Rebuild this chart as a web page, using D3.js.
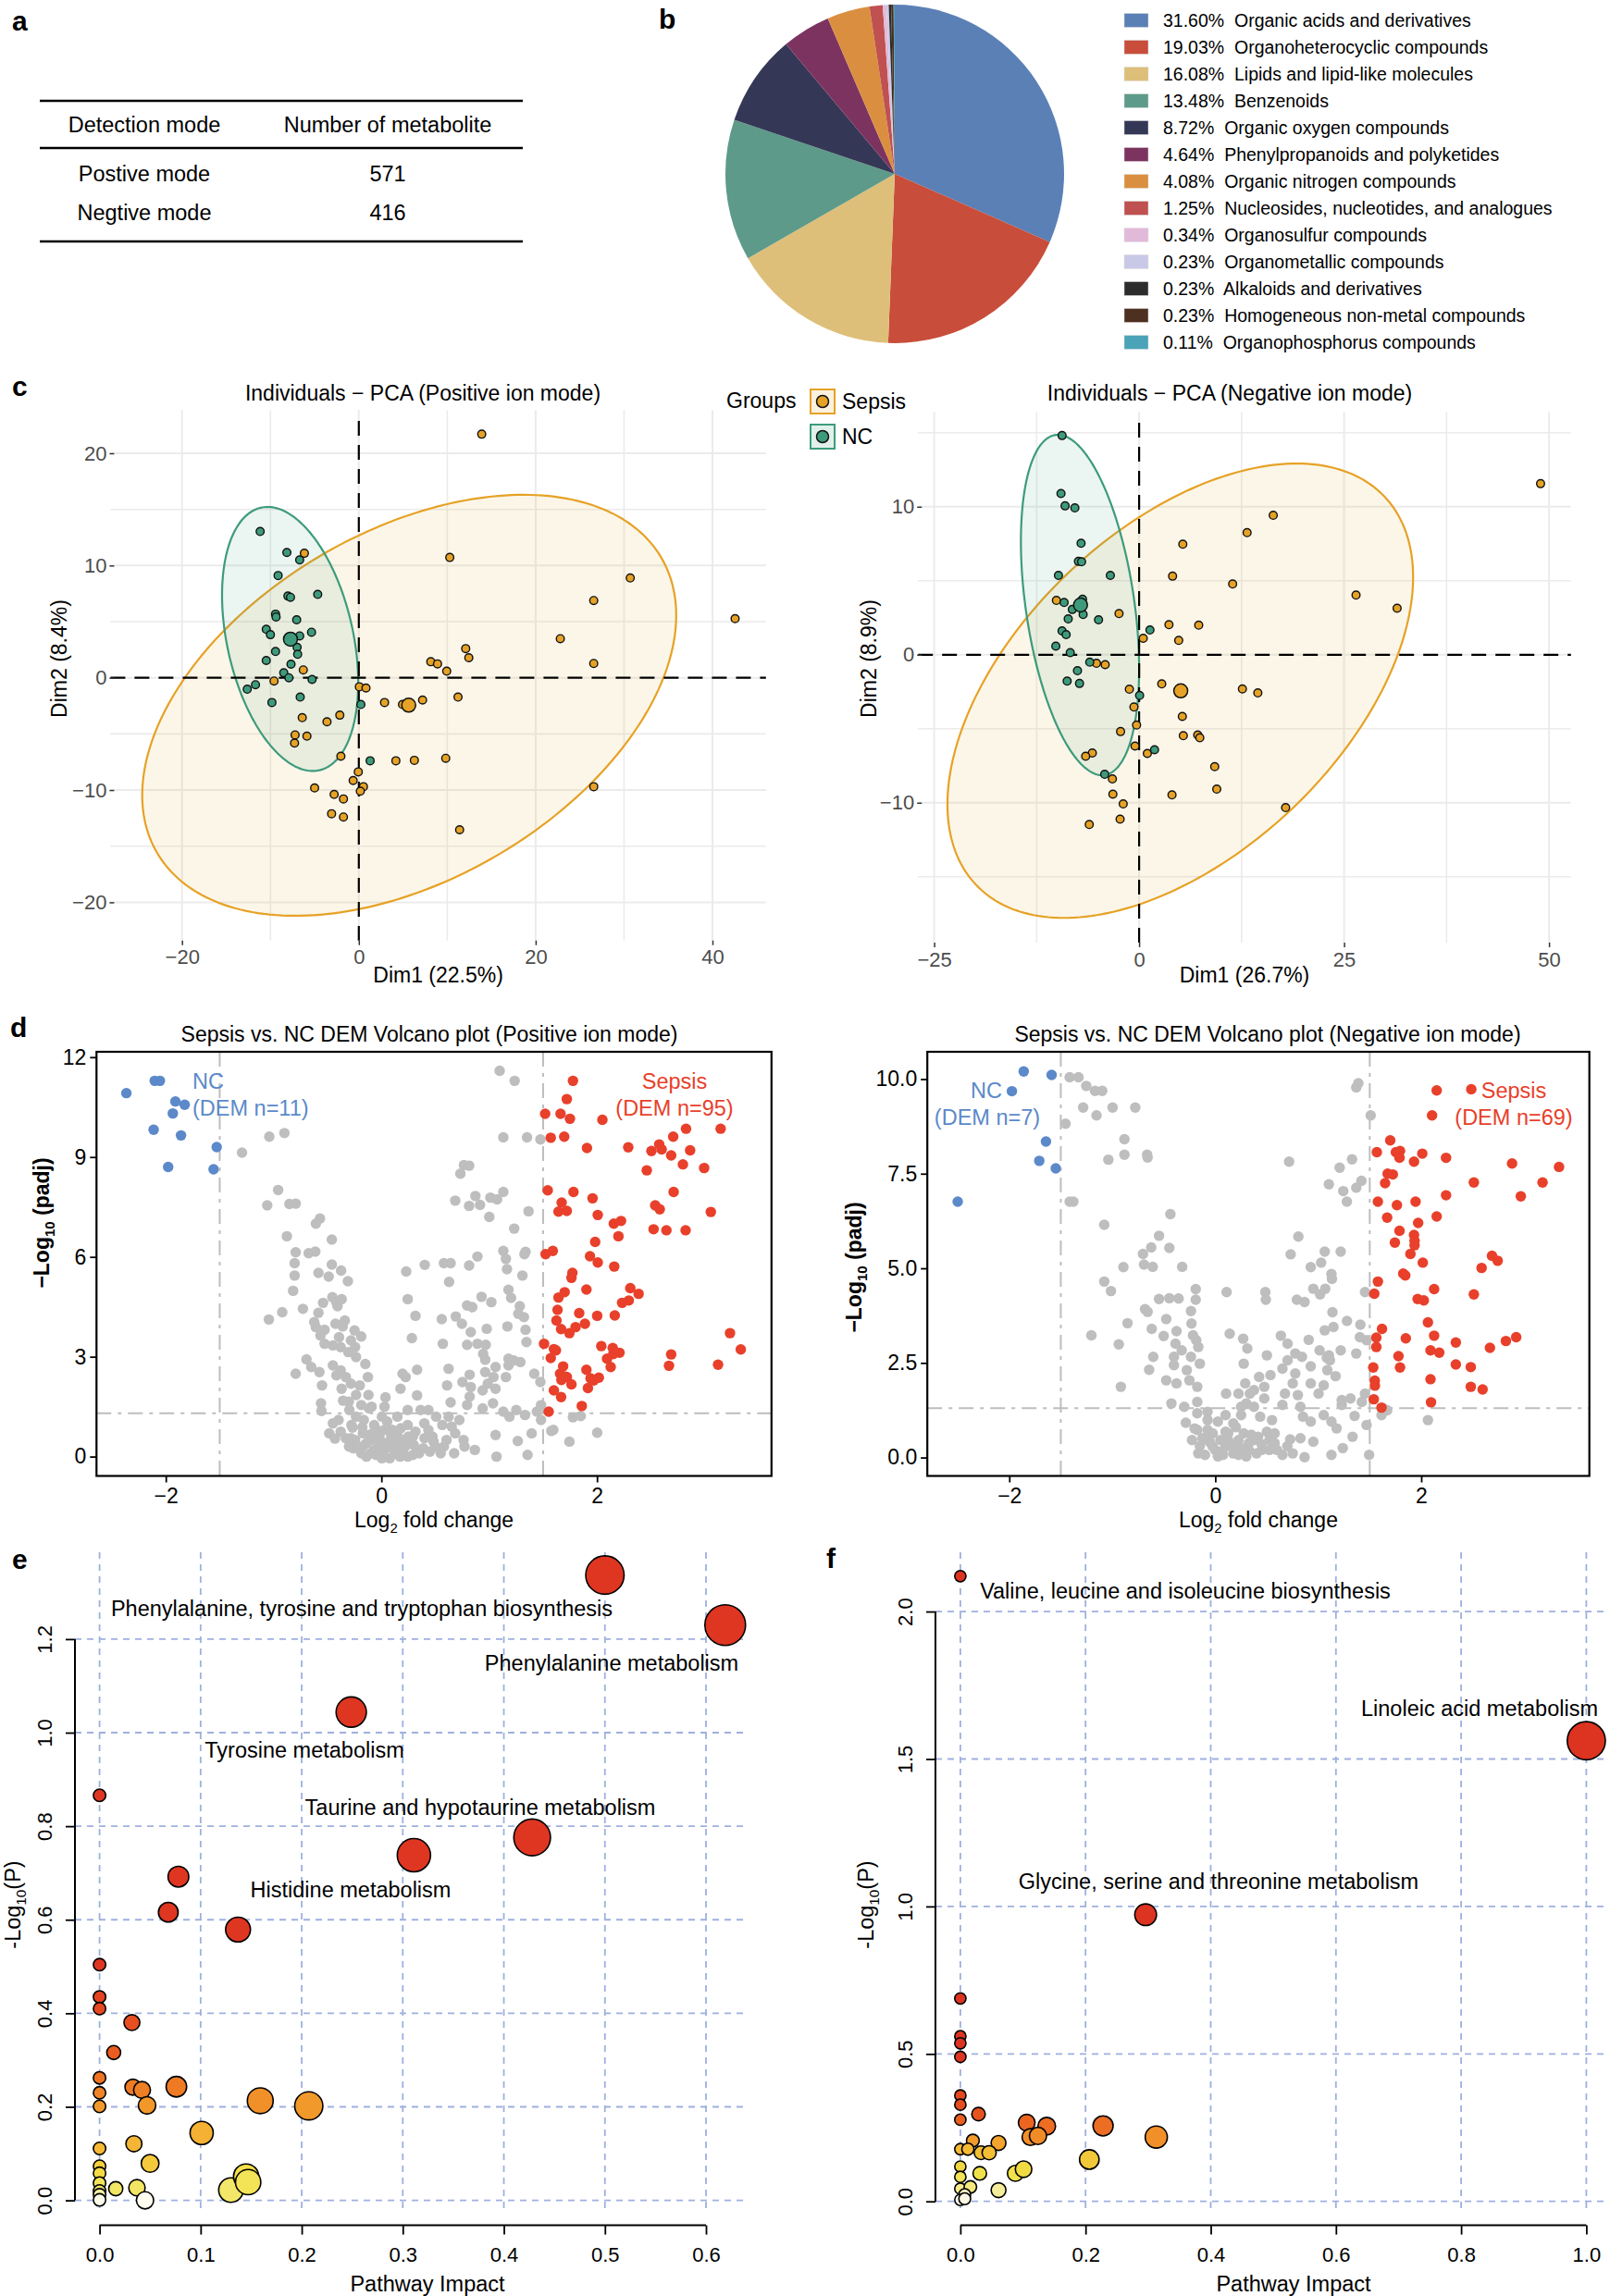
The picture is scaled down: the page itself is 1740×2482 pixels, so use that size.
<!DOCTYPE html>
<html><head><meta charset="utf-8">
<script src="https://cdn.jsdelivr.net/npm/d3@7"></script>
<style>
body{margin:0;background:#fff}
svg{font-family:"Liberation Sans",Arial,Helvetica,sans-serif}
</style></head>
<body><svg id="c" width="1740" height="2482"></svg>
<script>
// ---------------- DATA ----------------
const tableHeaders = ["Detection mode", "Number of metabolite"];
const tableModes = ["Postive mode", "Negtive mode"];
const tableCounts = [571, 416];

const pieCategories = ["Organic acids and derivatives","Organoheterocyclic compounds","Lipids and lipid-like molecules","Benzenoids","Organic oxygen compounds","Phenylpropanoids and polyketides","Organic nitrogen compounds","Nucleosides, nucleotides, and analogues","Organosulfur compounds","Organometallic compounds","Alkaloids and derivatives","Homogeneous non-metal compounds","Organophosphorus compounds"];
const piePercents = [31.60,19.03,16.08,13.48,8.72,4.64,4.08,1.25,0.34,0.23,0.23,0.23,0.11];

const groups = ["Sepsis","NC"];
const pcaPosSepsis = [[13.9,21.7],[-6.16,11.09],[10.29,10.72],[30.7,8.89],[26.57,6.88],[42.56,5.27],[22.79,3.48],[12.09,2.60],[12.44,1.79],[26.57,1.28],[8.14,1.43],[8.9,1.24],[9.94,0.59],[-6.28,0.70],[-9.59,-0.29],[0.06,-0.80],[0.81,-0.91],[2.91,-2.20],[4.94,-2.38],[7.21,-1.98],[11.22,-1.72],[-6.4,-3.55],[-2.15,-3.33],[-3.6,-3.92],[-7.21,-5.09],[-5.87,-5.20],[-7.27,-5.82],[-2.03,-6.99],[4.19,-7.39],[6.28,-7.35],[9.83,-7.17],[-0.06,-8.38],[-0.64,-9.15],[0.52,-9.70],[0.17,-10.10],[-5.0,-9.81],[-2.79,-10.39],[-1.74,-10.79],[-3.08,-12.11],[-1.74,-12.40],[26.57,-9.70],[11.40,-13.54]];
const pcaPosNC = [[-11.16,13.03],[-8.14,11.16],[-6.69,10.50],[-9.13,9.11],[-8.02,7.28],[-7.73,7.17],[-4.65,7.43],[-9.42,5.67],[-9.36,5.42],[-7.03,5.16],[-10.47,4.32],[-10.0,3.84],[-6.69,3.73],[-5.35,4.06],[-6.98,2.71],[-6.92,2.09],[-9.42,2.34],[-10.47,1.54],[-7.67,1.21],[-8.49,0.44],[-7.91,0.0],[-5.29,-0.15],[-11.69,-0.62],[-12.62,-1.02],[-9.83,-2.20],[-6.63,-1.72],[0.23,-2.38],[1.28,-7.39]];
const pcaPosCentroids = [[5.64,-2.44],[-7.73,3.44]];
const pcaPosEllipses = [{cx:5.7,cy:-2.45,sxx:912,sxy:242,syy:351.6},{cx:-7.77,cy:3.46,sxx:59.3,sxy:-30,syy:138.3}];

const pcaNegSepsis = [[48.97,11.56],[16.36,9.42],[13.17,8.25],[5.33,7.47],[4.08,5.31],[11.41,4.78],[26.46,4.03],[31.47,3.14],[-10.09,3.67],[-2.45,2.78],[3.64,2.03],[7.27,2.0],[0.50,1.11],[4.83,0.97],[-5.20,-0.58],[-4.14,-0.67],[2.76,-1.97],[-1.19,-2.33],[12.60,-2.31],[14.48,-2.58],[-0.63,-3.53],[5.27,-4.17],[-0.31,-4.75],[-2.26,-5.19],[5.39,-5.47],[7.15,-5.42],[7.40,-5.61],[-0.50,-6.17],[1.0,-6.67],[-5.71,-6.64],[-6.52,-6.86],[-3.26,-8.39],[9.22,-7.56],[-3.20,-9.42],[4.01,-9.47],[9.47,-9.08],[-1.94,-10.08],[17.87,-10.33],[-2.32,-11.11],[-6.08,-11.47]];
const pcaNegNC = [[-9.40,14.81],[-9.53,10.89],[-9.03,10.06],[-7.84,9.92],[-7.08,7.53],[-7.40,6.31],[-7.02,6.28],[-9.84,5.36],[-3.51,5.36],[-9.15,3.53],[-8.15,3.06],[-6.90,3.75],[-6.83,2.72],[-8.65,2.42],[-4.95,2.36],[-9.40,1.61],[-8.90,1.36],[-10.16,0.58],[-8.40,0.14],[-6.02,-0.50],[-7.52,-1.08],[-8.78,-1.78],[-7.27,-1.94],[0.06,-2.75],[1.32,1.67],[1.88,-6.42],[-4.20,-8.08]];
const pcaNegCentroids = [[5.08,-2.44],[-7.15,3.36]];
const pcaNegEllipses = [{cx:5.02,cy:-2.43,sxx:806.6,sxy:218,syy:235.6},{cx:-7.21,cy:3.36,sxx:52,sxy:-31,syy:132.25}];

const volcPosUp = [[1.777,11.29],[1.72,10.74],[1.519,10.30],[1.662,10.30],[1.749,10.15],[2.05,10.12],[1.571,9.58],[1.696,9.61],[1.907,9.27],[2.29,9.29],[2.505,9.18],[2.577,9.38],[2.60,9.23],[2.707,9.61],[2.826,9.85],[3.147,9.85],[2.864,9.20],[2.688,9.05],[2.462,8.60],[2.797,8.78],[2.994,8.67],[1.543,8.0],[1.782,7.95],[1.959,7.76],[1.672,7.63],[1.643,7.36],[1.72,7.38],[2.007,7.26],[2.156,7.0],[2.223,7.08],[2.199,6.62],[1.983,6.45],[2.54,7.55],[2.582,7.43],[2.711,7.95],[3.056,7.35],[2.525,6.83],[2.644,6.80],[2.822,6.80],[1.523,6.08],[1.59,6.18],[1.935,6.02],[2.007,5.83],[2.16,5.71],[1.772,5.52],[1.763,5.37],[1.902,5.02],[1.70,4.94],[1.643,4.78],[2.309,5.06],[2.386,4.89],[2.295,4.69],[2.233,4.62],[1.634,4.41],[1.835,4.31],[2.002,4.23],[2.165,4.24],[1.624,4.09],[1.667,3.83],[1.744,3.71],[1.801,3.89],[1.888,3.99],[1.509,3.39],[1.619,3.19],[2.093,2.94],[2.146,3.26],[2.209,3.12],[2.151,3.08],[1.571,2.96],[1.686,2.71],[1.657,2.49],[1.72,2.39],[1.763,2.17],[1.902,2.61],[2.017,2.37],[1.97,2.29],[2.127,2.69],[1.916,2.06],[1.60,1.99],[1.667,1.79],[1.859,1.52],[1.552,1.35],[3.234,3.71],[3.334,3.22],[3.123,2.76],[2.688,3.07],[2.668,2.73],[1.67,2.30],[1.94,2.35],[2.04,3.32],[1.60,3.23],[1.71,2.40]];
const volcPosDown = [[-2.366,10.92],[-2.103,11.29],[-2.055,11.29],[-1.911,10.67],[-1.825,10.57],[-1.935,10.31],[-2.113,9.82],[-1.859,9.65],[-1.528,9.30],[-1.978,8.70],[-1.557,8.63]];
const volcPosNS = [[1.097,11.59],[1.236,11.29],[-1.04,9.61],[-0.9,9.72],[-1.293,9.13],[1.131,9.59],[1.351,9.59],[1.475,9.53],[0.733,8.50],[0.766,8.76],[0.814,8.74],[-0.958,8.01],[-1.059,7.55],[-0.853,7.59],[-0.795,7.60],[-0.608,7.0],[-0.57,7.15],[-0.877,6.62],[-0.46,6.52],[-0.795,6.14],[-0.675,6.11],[-0.613,6.16],[-0.805,5.81],[-0.46,5.77],[-0.374,5.59],[-0.805,5.44],[-0.584,5.52],[-0.489,5.41],[-0.311,5.27],[-0.819,4.98],[-0.728,4.44],[-0.92,4.34],[-1.044,4.12],[-0.541,4.62],[-0.455,4.79],[-0.417,4.62],[-0.369,4.73],[-0.407,4.52],[-0.584,4.32],[-0.623,4.04],[-0.608,3.89],[-0.527,3.81],[-0.426,3.99],[-0.34,4.09],[-0.359,3.91],[-0.249,3.79],[-0.565,3.64],[-0.393,3.59],[-0.283,3.49],[-0.187,3.61],[-0.527,3.39],[-0.45,3.34],[-0.378,3.29],[-0.244,3.29],[-0.307,3.14],[-0.235,2.99],[-0.695,2.92],[-0.651,2.69],[-0.795,2.49],[-0.575,2.54],[-0.45,2.74],[-0.378,2.59],[-0.149,2.78],[-0.33,2.39],[-0.417,2.44],[-0.551,2.14],[-0.369,2.04],[-0.283,2.19],[-0.201,2.14],[-0.125,2.39],[-0.355,1.68],[-0.235,1.85],[-0.12,1.85],[-0.56,1.60],[-0.556,1.37],[-0.297,1.40],[-0.187,1.55],[-0.091,1.50],[-0.45,1.0],[-0.484,0.70],[-0.431,0.54],[-0.378,0.75],[-0.268,0.87],[-0.244,0.50],[-0.172,0.70],[-0.259,0.25],[-0.168,0.32],[-0.1,0.10],[-0.091,0.50],[-0.043,0.80],[-0.019,0.30],[0.038,1.78],[0.029,1.50],[0.053,1.05],[0.091,0.60],[0.125,0.10],[0.005,-0.05],[0.196,0.50],[0.177,2.04],[0.196,2.49],[0.225,2.39],[0.331,2.61],[0.331,1.84],[0.244,1.40],[0.148,1.20],[0.244,0.95],[0.292,0.60],[0.22,0.30],[0.292,0.05],[0.364,1.40],[0.436,0.80],[0.484,0.45],[0.388,0.25],[0.565,0.95],[0.623,1.20],[0.609,2.14],[0.623,2.64],[0.57,3.39],[0.642,1.63],[0.685,0.70],[0.723,1.10],[0.762,0.50],[0.795,1.55],[0.819,1.80],[0.829,2.09],[0.752,2.24],[0.819,2.46],[0.891,3.39],[0.977,3.84],[0.795,3.36],[0.747,3.99],[0.829,3.74],[0.69,4.21],[0.316,4.23],[0.283,3.56],[0.23,5.56],[0.244,4.73],[0.402,5.76],[0.58,5.81],[0.642,5.81],[0.628,5.25],[0.56,4.13],[0.795,4.54],[0.843,4.49],[0.929,4.80],[1.02,4.64],[0.814,5.74],[0.891,6.01],[0.685,7.69],[0.814,7.53],[0.872,7.83],[0.915,7.56],[1.011,7.78],[1.073,7.73],[1.131,7.95],[1.001,7.20],[1.232,6.85],[1.365,7.37],[1.131,6.18],[1.155,5.94],[1.165,5.63],[1.308,5.44],[1.337,6.15],[1.327,6.08],[1.179,5.01],[1.203,4.77],[1.284,4.52],[1.322,4.19],[1.27,4.29],[1.169,3.91],[1.337,3.81],[1.346,3.44],[0.968,3.36],[0.944,3.09],[0.963,2.91],[1.179,2.94],[1.227,2.89],[1.289,2.84],[1.059,2.69],[1.179,2.74],[0.963,2.54],[1.04,2.39],[1.155,2.39],[1.418,2.49],[1.475,2.24],[0.987,2.19],[1.059,2.04],[0.939,1.99],[1.035,1.60],[0.939,1.45],[1.131,1.35],[1.251,1.40],[1.442,1.35],[1.481,1.55],[1.481,1.10],[1.332,1.25],[1.188,1.20],[1.059,0.65],[1.265,0.47],[1.394,0.70],[1.576,0.77],[1.595,0.80],[1.744,0.45],[1.777,1.18],[1.849,1.22],[2.002,0.72],[1.068,0.0],[1.356,0.05],[0.771,0.30],[0.675,0.10],[0.867,0.20],[0.58,0.30],[0.077,-0.05],[-0.139,0.0],[-0.187,0.10],[0.172,0.0],[0.244,0.0],[0.34,0.20],[-0.067,0.20],[0.053,0.40],[-0.115,0.65],[0.101,0.80],[0.005,1.20],[-0.067,0.95],[-0.163,1.10],[-0.235,1.20],[-0.302,1.65],[-0.115,1.45],[0.436,1.40],[0.508,1.20],[0.398,1.0],[0.316,0.75],[0.474,0.60],[0.604,0.50],[0.652,0.90],[0.148,0.65],[0.148,0.30],[0.268,0.45],[-0.019,0.60],[0.029,0.80],[-0.33,0.55],[-0.397,1.10],[-0.278,0.95],[-0.177,0.88],[-0.283,0.55],[-0.05,0.05],[0.02,0.15],[0.1,0.25],[0.2,0.15],[0.3,0.35],[0.35,0.1],[0.45,0.15],[-0.2,0.25],[-0.3,0.3],[0.0,0.45],[0.12,0.42],[0.25,0.6],[-0.08,0.7],[0.06,0.35],[-0.14,0.4],[0.18,0.85],[0.4,0.55],[0.5,0.3],[0.55,0.1]];

const volcNegUp = [[2.15,9.70],[2.486,9.73],[2.105,9.04],[1.699,8.38],[1.569,8.07],[1.754,8.07],[1.794,8.10],[1.789,7.92],[2.01,8.03],[1.93,7.82],[2.241,7.92],[1.674,7.50],[1.724,7.48],[1.649,7.25],[2.511,7.27],[2.882,7.77],[3.338,7.68],[3.178,7.27],[2.967,6.90],[2.241,6.93],[1.579,6.76],[1.764,6.67],[1.945,6.76],[1.669,6.34],[2.15,6.37],[1.97,6.20],[1.789,5.99],[1.93,5.88],[1.935,5.73],[1.935,5.61],[1.744,5.68],[1.895,5.38],[2.015,5.15],[2.687,5.33],[2.742,5.20],[2.586,5.01],[1.579,4.65],[1.825,4.86],[1.845,4.81],[1.544,4.33],[2.125,4.45],[2.511,4.31],[1.965,4.19],[2.025,4.15],[2.065,3.57],[1.619,3.40],[1.564,3.17],[1.564,2.92],[1.85,3.15],[2.125,3.22],[2.336,3.04],[2.822,3.08],[2.922,3.18],[2.667,2.90],[2.09,2.83],[2.175,2.77],[1.779,2.68],[1.534,2.38],[1.794,2.38],[2.336,2.46],[2.481,2.39],[1.549,2.03],[2.09,2.07],[2.481,1.87],[2.596,1.80],[1.539,1.54],[2.095,1.46],[1.614,1.32],[1.55,1.90]];
const volcNegDown = [[-1.86,10.20],[-1.589,10.11],[-1.975,9.68],[-1.644,8.35],[-1.709,7.84],[-1.549,7.64],[-2.501,6.76]];
const volcNegNS = [[-1.414,10.05],[-1.328,10.05],[-1.253,9.82],[-1.168,9.69],[-1.098,9.69],[-1.454,8.82],[-1.283,9.25],[-1.153,9.04],[-0.997,9.25],[-0.777,9.25],[-0.882,8.41],[-1.038,7.87],[-0.882,8.0],[-0.662,8.0],[-0.657,7.93],[-1.414,6.76],[-1.378,6.76],[-0.436,6.43],[-1.078,6.15],[-0.546,5.86],[-0.622,5.55],[-0.446,5.54],[-0.702,5.38],[-0.692,5.10],[-0.607,5.04],[-0.892,5.03],[-0.321,5.04],[-1.078,4.65],[-1.013,4.40],[-0.546,4.19],[-0.446,4.21],[-0.356,4.20],[-0.19,4.45],[-0.682,3.92],[-0.657,3.85],[-0.476,3.66],[-0.852,3.55],[-0.617,3.40],[-0.376,3.34],[-0.19,4.17],[-0.236,3.87],[-1.203,3.23],[-0.501,3.21],[-0.937,2.99],[-0.231,3.54],[-0.216,3.23],[-0.185,3.10],[-0.165,2.92],[-0.386,3.01],[-0.326,2.83],[-0.401,2.66],[-0.602,2.66],[-0.236,2.66],[-0.15,2.48],[-0.642,2.32],[-0.401,2.44],[-0.276,2.31],[-0.476,2.04],[-0.376,1.96],[-0.251,2.04],[-0.175,1.87],[-0.917,1.87],[-0.426,1.43],[-0.301,1.34],[-0.175,1.47],[-0.175,1.17],[-0.075,1.21],[-0.286,0.92],[-0.175,0.73],[-0.226,0.46],[-0.165,0.11],[-0.075,0.46],[-0.075,0.73],[0,0.20],[0.05,0.46],[0.025,0.03],[0.1,0.29],[0.125,0.64],[0.175,0.11],[0.226,0.46],[0.175,0.90],[0.276,0.64],[0.301,0.03],[0.326,0.38],[0.401,0.11],[0.416,0.55],[0.451,0.20],[0.526,0.46],[0.576,0.64],[0.1,1.12],[0.251,1.12],[0.301,1.43],[0.336,1.69],[0.226,1.69],[0.105,1.69],[0.291,1.96],[0.426,2.13],[0.501,2.70],[0.276,2.48],[0.311,2.88],[0.271,3.14],[0.14,3.27],[0.11,4.37],[0.486,4.37],[0.491,4.17],[0.536,2.18],[0.476,1.87],[0.376,1.34],[0.436,1.08],[0.551,0.99],[0.652,1.39],[0.677,1.69],[0.752,1.96],[0.777,2.22],[0.652,2.35],[0.702,2.57],[0.777,2.75],[0.842,2.66],[0.637,3.22],[0.702,3.01],[0.907,3.11],[0.792,4.17],[0.867,4.11],[0.732,5.37],[0.807,5.84],[0.717,7.82],[0.927,5.03],[1.028,5.15],[1.063,5.44],[1.218,5.44],[1.128,4.85],[1.133,4.72],[0.952,4.46],[1.068,4.46],[1.018,4.31],[1.454,4.37],[1.138,3.84],[1.279,3.61],[1.148,3.45],[1.063,3.36],[1.409,3.51],[1.404,3.18],[1.469,3.10],[1.218,2.83],[1.013,2.83],[1.083,2.64],[0.927,2.41],[1.088,2.31],[1.168,2.15],[0.927,1.96],[1.003,1.69],[0.802,1.65],[0.827,1.34],[0.852,1.08],[0.927,0.95],[1.053,1.12],[1.128,0.95],[1.178,0.77],[1.228,1.39],[1.313,1.56],[1.423,1.47],[1.454,1.69],[1.629,1.30],[1.614,1.12],[1.669,1.25],[2.065,0.99],[1.333,0.55],[1.238,0.25],[1.128,0.07],[1.494,0.07],[0.867,0.01],[0.752,0.11],[0.727,0.48],[0.827,0.51],[0.952,0.42],[0.576,0.38],[0.652,0.07],[1.103,2.70],[1.113,2.57],[1.053,1.91],[1.228,1.52],[1.353,1.10],[1.369,2.75],[1.469,0.86],[1.369,9.78],[1.389,9.89],[1.509,9.04],[1.328,7.88],[1.208,7.66],[1.103,7.22],[1.243,7.04],[1.278,6.76],[1.369,7.13],[1.419,7.31],[0.376,1.78],[0.476,1.56],[0.251,1.34],[0.025,0.95],[-0.075,0.99],[-0.201,0.77],[-0.125,0.51],[-0.025,0.64],[0.1,0.68],[0.125,0.46],[0.201,0.29],[-0.025,0.29],[-0.1,0.07],[0.075,0.07],[0.226,0.07],[0.326,0.20],[0.376,0.46],[0.501,0.68],[0.526,0.20],[0.05,0.15],[0.15,0.35],[-0.05,0.4],[0.25,0.25],[0.35,0.6],[0.45,0.35],[-0.15,0.3],[0.2,0.8],[0.6,0.2],[0.7,0.3]];

const pathPos = [[0.5,1.337],[0.619,1.23],[0.249,1.044],[0.428,0.776],[0.311,0.738],[0.078,0.692],[0.068,0.616],[0.137,0.579],[0,0.866],[0,0.504],[0,0.435],[0,0.41],[0.032,0.380],[0.014,0.316],[0,0.262],[0,0.230],[0,0.201],[0.033,0.242],[0.042,0.236],[0.047,0.203],[0.076,0.243],[0.159,0.213],[0.207,0.202],[0.101,0.144],[0.034,0.121],[0.050,0.079],[0,0.111],[0,0.073],[0,0.058],[0,0.037],[0,0.020],[0,0.012],[0,0.001],[0.016,0.025],[0.037,0.027],[0.045,0.0],[0.13,0.022],[0.145,0.051],[0.147,0.039]];
const pathPosLabels = ["Phenylalanine, tyrosine and tryptophan biosynthesis","Phenylalanine metabolism","Tyrosine metabolism","Taurine and hypotaurine metabolism","Histidine metabolism"];
const pathNeg = [[1.0,1.562],[0.296,0.972],[0,2.12],[0,0.688],[0,0.56],[0,0.536],[0,0.49],[0,0.359],[0,0.328],[0,0.277],[0.029,0.296],[0.106,0.267],[0.138,0.255],[0.228,0.256],[0.313,0.218],[0.112,0.218],[0.124,0.222],[0.02,0.206],[0.061,0.198],[0,0.177],[0.012,0.177],[0.033,0.165],[0.046,0.165],[0.206,0.142],[0,0.118],[0,0.083],[0.031,0.095],[0.088,0.095],[0.101,0.109],[0,0.043],[0.016,0.049],[0.007,0.023],[0.061,0.038],[0,0.005],[0.007,0.009]];
const pathNegLabels = ["Valine, leucine and isoleucine biosynthesis","Linoleic acid metabolism","Glycine, serine and threonine metabolism"];

// ---------------- STYLE / LAYOUT ----------------
const pieColors = ["#5B80B6","#C84D3A","#DEBF79","#5E9A89","#343755","#7D3360","#DA8F40","#BF5150","#E2BAD9","#C9C9E7","#2C2C2C","#4E3020","#4BA3B8"];
const groupColors = ["#E6A226","#3D9B7B"];
const volcColors = {up:"#E8402B", down:"#5B89C9", ns:"#BEBEBE"};
const svg = d3.select("#c");

function txt(g, x, y, s, opt={}) {
  const t = g.append("text").attr("x", x).attr("y", y).text(s)
    .attr("font-size", opt.size || 23).attr("fill", opt.fill || "#000")
    .attr("text-anchor", opt.anchor || "start");
  if (opt.weight) t.attr("font-weight", opt.weight);
  return t;
}
function richText(g, parts, size, opt={}) {
  const t = g.append("text").attr("font-size", size).attr("text-anchor", opt.anchor || "middle").attr("fill", opt.fill || "#000");
  if (opt.weight) t.attr("font-weight", opt.weight);
  if (opt.transform) t.attr("transform", opt.transform);
  if (opt.x !== undefined) t.attr("x", opt.x).attr("y", opt.y);
  let sub = false;
  parts.forEach(([s, isSub]) => {
    const ts = t.append("tspan").text(s);
    if (isSub && !sub) { ts.attr("font-size", size * 0.65).attr("dy", size * 0.25); sub = true; }
    else if (!isSub && sub) { ts.attr("dy", -size * 0.25); sub = false; }
  });
  return t;
}

[["a",13,33],["b",712,31],["c",13,428],["d",11,1121],["e",13,1696],["f",893,1695]].forEach(([l,x,y]) =>
  txt(svg, x, y, l, {size:30, weight:"bold"}));

// ---------------- a: table ----------------
{
  const g = svg.append("g");
  [109,160,261].forEach(y => g.append("line").attr("x1",43).attr("x2",565).attr("y1",y).attr("y2",y).attr("stroke","#000").attr("stroke-width",2.6));
  const cols = [156, 419];
  tableHeaders.forEach((h,i) => txt(g, cols[i], 143, h, {anchor:"middle", size:23.5}));
  tableModes.forEach((m,i) => {
    txt(g, cols[0], 196 + i*42, m, {anchor:"middle", size:23.5});
    txt(g, cols[1], 196 + i*42, String(tableCounts[i]), {anchor:"middle", size:23.5});
  });
}

// ---------------- b: pie ----------------
{
  const g = svg.append("g").attr("transform","translate(967,188)");
  const arcs = d3.pie().sort(null).value(d => d)(piePercents);
  const arc = d3.arc().innerRadius(0).outerRadius(183);
  g.selectAll("path").data(arcs).join("path").attr("d", arc).attr("fill", (d,i) => pieColors[i]);
  const lg = svg.append("g");
  pieCategories.forEach((c,i) => {
    const cy = 22 + i*29;
    lg.append("rect").attr("x",1215).attr("y",cy-7.5).attr("width",26).attr("height",15).attr("fill",pieColors[i]).attr("stroke","#ddd").attr("stroke-width",0.5);
    txt(lg, 1257, cy+7, d3.format(".2f")(piePercents[i]) + "%  " + c, {size:19.5}).style("white-space","pre");
  });
}

// ---------------- c: PCA ----------------
function drawPCA(o) {
  const g = svg.append("g");
  const x = d3.scaleLinear().domain(o.xAnchor).range(o.xPix);
  const y = d3.scaleLinear().domain(o.yAnchor).range(o.yPix);
  const L = o.L, R = o.R, T = o.T, B = o.B;
  const grid = "#EBEBEB";
  o.xMinor.concat(o.xTicks).forEach(v => g.append("line").attr("x1",x(v)).attr("x2",x(v)).attr("y1",T).attr("y2",B).attr("stroke",grid).attr("stroke-width",o.xMinor.includes(v)?1.6:2));
  o.yMinor.concat(o.yTicks).forEach(v => g.append("line").attr("y1",y(v)).attr("y2",y(v)).attr("x1",L).attr("x2",R).attr("stroke",grid).attr("stroke-width",o.yMinor.includes(v)?1.6:2));
  o.ellipses.forEach((e,i) => {
    const l11 = Math.sqrt(e.sxx), l21 = e.sxy / l11, l22 = Math.sqrt(e.syy - l21*l21);
    const pts = d3.range(0, 2*Math.PI, Math.PI/120).map(t => [x(e.cx + l11*Math.cos(t)), y(e.cy + l21*Math.cos(t) + l22*Math.sin(t))]);
    g.append("path").attr("d", d3.line().curve(d3.curveLinearClosed)(pts))
      .attr("fill", groupColors[i]).attr("fill-opacity", 0.1).attr("stroke", groupColors[i]).attr("stroke-width", 2.2);
  });
  g.append("line").attr("x1",L).attr("x2",R).attr("y1",y(0)).attr("y2",y(0)).attr("stroke","#000").attr("stroke-width",2.2).attr("stroke-dasharray","16,10");
  g.append("line").attr("x1",x(0)).attr("x2",x(0)).attr("y1",o.vTop).attr("y2",B).attr("stroke","#000").attr("stroke-width",2.2).attr("stroke-dasharray","16,10");
  [o.sepsis, o.nc].forEach((arr,i) => {
    g.append("g").selectAll("circle").data(arr).join("circle")
      .attr("cx", d => x(d[0])).attr("cy", d => y(d[1])).attr("r", 4.3)
      .attr("fill", groupColors[i]).attr("stroke","#111").attr("stroke-width",1.4);
  });
  o.centroids.forEach((c,i) => g.append("circle").attr("cx",x(c[0])).attr("cy",y(c[1])).attr("r",7.5).attr("fill",groupColors[i]).attr("stroke","#111").attr("stroke-width",1.5));
  const ax = g.append("g").attr("transform",`translate(0,${B})`).call(d3.axisBottom(x).tickValues(o.xTicks).tickFormat(d3.format("d")).tickSize(5).tickPadding(5));
  const ay = g.append("g").attr("transform",`translate(${L+4},0)`).call(d3.axisLeft(y).tickValues(o.yTicks).tickFormat(d3.format("d")).tickSize(5).tickPadding(3));
  [ax, ay].forEach(a => {
    a.select(".domain").remove();
    a.selectAll("line").attr("stroke","#333").attr("stroke-width",1.5);
    a.selectAll("text").attr("font-size",22).attr("fill","#4D4D4D").attr("font-family",null);
  });
  txt(g, o.titleX, 433, o.title, {anchor:"middle", size:23});
  txt(g, (L+R)/2, 1062, o.xlab, {anchor:"middle", size:23});
  g.append("text").attr("transform",`translate(${o.ylabX},712) rotate(-90)`).attr("text-anchor","middle").attr("font-size",23).text(o.ylab);
}
drawPCA({xAnchor:[0,20], xPix:[387.8,578.9], yAnchor:[0,20], yPix:[732.7,490],
  L:119.4, R:827.8, T:443.3, B:1016.7, vTop:455,
  xTicks:[-20,0,20,40], xMinor:[-10,10,30], yTicks:[-20,-10,0,10,20], yMinor:[-15,-5,5,15],
  sepsis:pcaPosSepsis, nc:pcaPosNC, centroids:pcaPosCentroids, ellipses:pcaPosEllipses,
  title:"Individuals − PCA (Positive ion mode)", titleX:457, xlab:"Dim1 (22.5%)", ylab:"Dim2 (8.4%)", ylabX:72});
drawPCA({xAnchor:[0,25], xPix:[1231.1,1452.6], yAnchor:[0,10], yPix:[707.8,547.8],
  L:992.2, R:1697.8, T:445.6, B:1018.9, vTop:457,
  xTicks:[-25,0,25,50], xMinor:[-12.5,12.5,37.5], yTicks:[-10,0,10], yMinor:[-15,-5,5,15],
  sepsis:pcaNegSepsis, nc:pcaNegNC, centroids:pcaNegCentroids, ellipses:pcaNegEllipses,
  title:"Individuals − PCA (Negative ion mode)", titleX:1329, xlab:"Dim1 (26.7%)", ylab:"Dim2 (8.9%)", ylabX:947});
{
  const g = svg.append("g");
  txt(g, 785, 441, "Groups", {size:23});
  groups.forEach((gr,i) => {
    const yy = 421 + i*38;
    g.append("rect").attr("x",876).attr("y",yy).attr("width",26).attr("height",26)
      .attr("fill",groupColors[i]).attr("fill-opacity",0.15).attr("stroke",groupColors[i]).attr("stroke-width",2);
    g.append("circle").attr("cx",889).attr("cy",yy+13).attr("r",6.5).attr("fill",groupColors[i]).attr("stroke","#111").attr("stroke-width",1.5);
    txt(g, 910, yy+21, gr, {size:23});
  });
}

// ---------------- d: volcano ----------------
function drawVolcano(o) {
  const g = svg.append("g");
  const x = d3.scaleLinear().domain(o.xAnchor).range(o.xPix);
  const y = d3.scaleLinear().domain(o.yAnchor).range(o.yPix);
  const L=o.L, R=o.R, T=1137, B=1595.5;
  const dash = "16,7,4,7";
  g.append("line").attr("x1",L).attr("x2",R).attr("y1",y(-Math.log10(0.05))).attr("y2",y(-Math.log10(0.05))).attr("stroke","#BDBDBD").attr("stroke-width",2).attr("stroke-dasharray",dash);
  [-1.5,1.5].forEach(v => g.append("line").attr("x1",x(v)).attr("x2",x(v)).attr("y1",T).attr("y2",B).attr("stroke","#BDBDBD").attr("stroke-width",2).attr("stroke-dasharray",dash));
  [[o.ns,volcColors.ns],[o.down,volcColors.down],[o.up,volcColors.up]].forEach(([arr,col]) => {
    g.append("g").selectAll("circle").data(arr).join("circle")
      .attr("cx",d=>x(d[0])).attr("cy",d=>y(d[1])).attr("r",5.7).attr("fill",col);
  });
  g.append("rect").attr("x",L).attr("y",T).attr("width",R-L).attr("height",B-T).attr("fill","none").attr("stroke","#000").attr("stroke-width",2.2);
  const ax = g.append("g").attr("transform",`translate(0,${B})`).call(d3.axisBottom(x).tickValues(o.xTicks).tickFormat(d3.format("d")).tickSize(7).tickPadding(6));
  const ay = g.append("g").attr("transform",`translate(${L},0)`).call(d3.axisLeft(y).tickValues(o.yTicks).tickFormat(d3.format(o.yFmt)).tickSize(7).tickPadding(4));
  [ax, ay].forEach(a => {
    a.select(".domain").remove();
    a.selectAll("line").attr("stroke","#000").attr("stroke-width",1.8);
    a.selectAll("text").attr("font-size",23).attr("fill","#000").attr("font-family",null);
  });
  txt(g, o.titleX, 1126, o.title, {anchor:"middle", size:23});
  richText(g, [["Log",false],["2",true],[" fold change",false]], 23, {x:(L+R)/2, y:1651});
  richText(g, [["−Log",false],["10",true],[" (padj)",false]], 23, {weight:"bold", transform:`translate(${o.ylabX},${o.ylabY}) rotate(-90)`});
  o.notes.forEach(n => txt(g, n[1], n[2], n[0], {anchor:n[3], size:23.5, fill:n[4]}));
}
drawVolcano({xAnchor:[0,2], xPix:[412.2,645.2], yAnchor:[0,12], yPix:[1574.6,1142.8], L:104.3, R:833.8,
  xTicks:[-2,0,2], yTicks:[0,3,6,9,12], yFmt:"d", up:volcPosUp, down:volcPosDown, ns:volcPosNS,
  title:"Sepsis vs. NC DEM Volcano plot (Positive ion mode)", titleX:464, ylabX:53, ylabY:1322,
  notes:[["NC",208,1177,"start",volcColors.down],["(DEM n=11)",208,1206,"start",volcColors.down],["Sepsis",729,1177,"middle",volcColors.up],["(DEM n=95)",729,1206,"middle",volcColors.up]]});
drawVolcano({xAnchor:[0,2], xPix:[1313.4,1536.0], yAnchor:[0,10], yPix:[1575.6,1166.5], L:1002.2, R:1717.7,
  xTicks:[-2,0,2], yTicks:[0,2.5,5,7.5,10], yFmt:".1f", up:volcNegUp, down:volcNegDown, ns:volcNegNS,
  title:"Sepsis vs. NC DEM Volcano plot (Negative ion mode)", titleX:1370, ylabX:931, ylabY:1370,
  notes:[["NC",1066,1187,"middle",volcColors.down],["(DEM n=7)",1067,1216,"middle",volcColors.down],["Sepsis",1636,1187,"middle",volcColors.up],["(DEM n=69)",1636,1216,"middle",volcColors.up]]});

// ---------------- e, f: pathway bubbles ----------------
function drawPathway(o) {
  const g = svg.append("g");
  const x = d3.scaleLinear().domain(o.xAnchor).range(o.xPix);
  const y = d3.scaleLinear().domain(o.yAnchor).range(o.yPix);
  const gridCol = "#9FB0DF";
  o.xTicks.forEach(v => g.append("line").attr("x1",x(v)).attr("x2",x(v)).attr("y1",1678).attr("y2",2390).attr("stroke",gridCol).attr("stroke-width",1.8).attr("stroke-dasharray","7,6"));
  o.yTicks.forEach(v => g.append("line").attr("x1",o.axisX).attr("x2",o.gridR).attr("y1",y(v)).attr("y2",y(v)).attr("stroke",gridCol).attr("stroke-width",1.8).attr("stroke-dasharray","7,6"));
  const col = d3.scaleLinear().domain(o.colDomain).range(o.colRange).clamp(true);
  const rad = d3.scaleLinear().domain(o.rDomain).range(o.rRange).clamp(true);
  g.append("g").selectAll("circle").data(o.data).join("circle")
    .attr("cx",d=>x(d[0])).attr("cy",d=>y(d[1])).attr("r",d=>rad(d[0]))
    .attr("fill",d=>col(d[1])).attr("stroke","#000").attr("stroke-width",1.6);
  const ax = g.append("g").attr("transform",`translate(0,2405.6)`).call(d3.axisBottom(x).tickValues(o.xTicks).tickFormat(d3.format(".1f")).tickSize(10).tickPadding(14));
  const ay = g.append("g").attr("transform",`translate(${o.axisX},0)`).call(d3.axisLeft(y).tickValues(o.yTicks).tickFormat(d3.format(".1f")).tickSize(10).tickPadding(14));
  [ax, ay].forEach(a => {
    a.select(".domain").remove();
    a.selectAll("line").attr("stroke","#000").attr("stroke-width",1.8);
    a.selectAll("text").attr("font-size",22).attr("fill","#000").attr("font-family",null);
  });
  ay.selectAll("text").attr("x",null).attr("dy",null).attr("text-anchor","middle").attr("transform","translate(-25,0) rotate(-90)");
  const xs = o.xTicks, ys = o.yTicks;
  g.append("line").attr("x1",x(xs[0])).attr("x2",x(xs[xs.length-1])).attr("y1",2405.6).attr("y2",2405.6).attr("stroke","#000").attr("stroke-width",2);
  g.append("line").attr("x1",o.axisX).attr("x2",o.axisX).attr("y1",y(ys[0])).attr("y2",y(ys[ys.length-1])).attr("stroke","#000").attr("stroke-width",2);
  txt(g, o.xlabX, 2477, "Pathway Impact", {anchor:"middle", size:23.5});
  richText(g, [["-Log",false],["10",true],["(P)",false]], 23.5, {transform:`translate(${o.ylabX},2059) rotate(-90)`});
  o.labels.forEach((s,i) => txt(g, o.labelPos[i][0], o.labelPos[i][1], s, {anchor:"middle", size:23.5}));
}
drawPathway({data:pathPos, labels:pathPosLabels, xAnchor:[0,0.6], xPix:[107.6,763], yAnchor:[0,1.2], yPix:[2378.6,1771.9],
  xTicks:[0,0.1,0.2,0.3,0.4,0.5,0.6], yTicks:[0,0.2,0.4,0.6,0.8,1.0,1.2], axisX:81, gridR:809, xlabX:462, ylabX:22,
  colDomain:[0,0.02,0.05,0.08,0.12,0.15,0.2,0.24,0.32,0.4,0.5], colRange:["#FFFDF0","#F2E76A","#F4E04A","#F5C83B","#F5B535","#F5B032","#F29A2B","#EE7C24","#EA5A20","#E64A20","#DF3622"],
  rDomain:[0,0.05,0.1,0.2,0.3,0.45,0.62], rRange:[6.7,9.6,12.5,15,17.8,20.2,22],
  labelPos:[[391,1747],[661,1806],[329,1900],[519,1962],[379,2051]]});
drawPathway({data:pathNeg, labels:pathNegLabels, xAnchor:[0,1.0], xPix:[1037.9,1714.4], yAnchor:[0,2.0], yPix:[2379.7,1742.1],
  xTicks:[0,0.2,0.4,0.6,0.8,1.0], yTicks:[0,0.5,1.0,1.5,2.0], axisX:1011, gridR:1738, xlabX:1398, ylabX:944,
  colDomain:[0,0.01,0.03,0.05,0.1,0.14,0.18,0.21,0.26,0.3,0.36,0.5], colRange:["#FFFFFF","#FCF9E0","#F8F0B0","#F4E97A","#F0E045","#F0C93A","#F5B834","#F2962A","#EC6A22","#E5501F","#E4481F","#DD3321"],
  rDomain:[0,0.03,0.1,0.2,0.3,1.0], rRange:[6.1,7.3,8.9,10.5,11.8,20.6],
  labelPos:[[1281,1728],[1599,1855],[1317,2042]]});
</script></body></html>
